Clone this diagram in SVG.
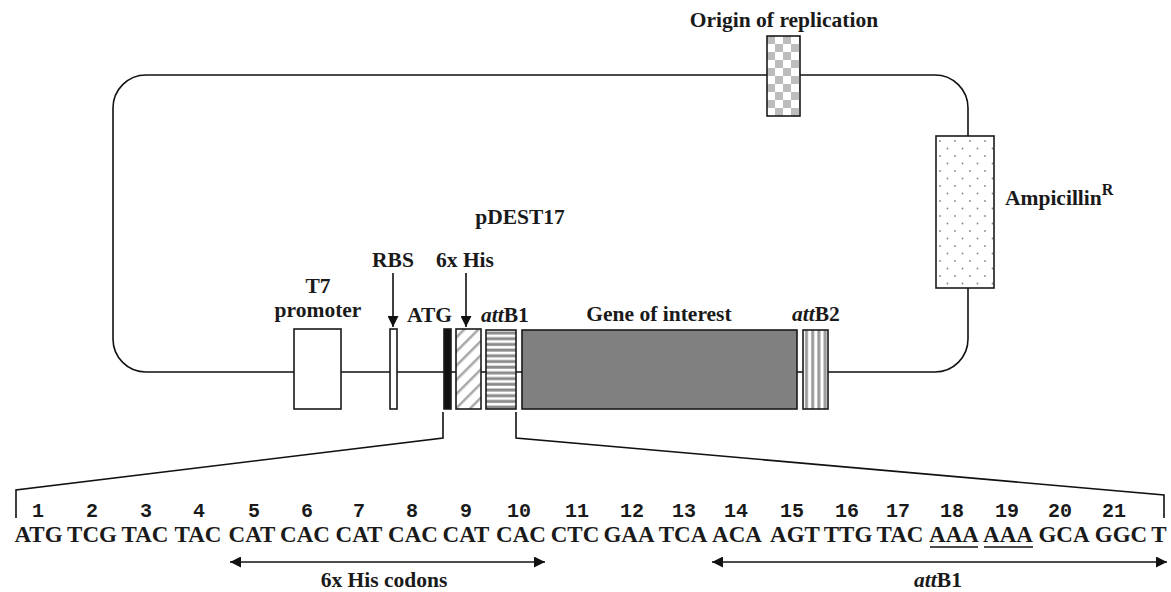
<svg xmlns="http://www.w3.org/2000/svg" width="1171" height="592" viewBox="0 0 1171 592">
<style>
.lbl{font-family:"Liberation Serif","Times New Roman",serif;font-weight:bold;font-size:21.5px;fill:#1a1a1a}
.seq{font-family:"Liberation Serif","Times New Roman",serif;font-weight:bold;font-size:23px;fill:#1a1a1a;text-anchor:middle}
.num{font-family:"Liberation Mono","Courier New",monospace;font-weight:bold;font-size:20px;fill:#1a1a1a;text-anchor:middle}
.box{stroke:#1a1a1a;stroke-width:1.6}
.ln{fill:none;stroke:#111;stroke-width:1.6}
.mid{text-anchor:middle}
</style>
<defs>
<pattern id="checker" width="16" height="16" patternUnits="userSpaceOnUse" x="767" y="36">
<rect width="16" height="16" fill="#fff"/>
<rect width="8" height="8" fill="#bdbdbd"/>
<rect x="8" y="8" width="8" height="8" fill="#bdbdbd"/>
</pattern>
<pattern id="dots" width="15" height="15" patternUnits="userSpaceOnUse" x="936" y="136">
<rect width="15" height="15" fill="#fff"/>
<circle cx="4" cy="5" r="0.9" fill="#888"/>
<circle cx="11.5" cy="12.5" r="0.9" fill="#888"/>
</pattern>
<pattern id="diag" width="10" height="10" patternUnits="userSpaceOnUse" patternTransform="rotate(45)">
<rect width="10" height="10" fill="#fff"/>
<rect x="0" width="2.5" height="10" fill="#a8a8a8"/>
</pattern>
<pattern id="hstripe" width="10" height="5.7" patternUnits="userSpaceOnUse" y="330">
<rect width="10" height="5.7" fill="#fff"/>
<rect y="1.5" width="10" height="3" fill="#8a8a8a"/>
</pattern>
<pattern id="vstripe" width="6.2" height="10" patternUnits="userSpaceOnUse" x="803">
<rect width="6.2" height="10" fill="#fff"/>
<rect x="2" width="3" height="10" fill="#9a9a9a"/>
</pattern>
<marker id="ah" viewBox="0 0 10 10" refX="10" refY="5" markerWidth="15" markerHeight="11" markerUnits="userSpaceOnUse" orient="auto-start-reverse">
<path d="M0,0 L10,5 L0,10 z" fill="#111"/>
</marker>
</defs>
<rect width="1171" height="592" fill="#fff"/>

<g id="connectors">
<rect x="113" y="75" width="855" height="297" rx="33" ry="33" class="ln" stroke-width="2"/>
<line x1="393" y1="273" x2="393" y2="327" class="ln" stroke-width="2" marker-end="url(#ah)"/>
<line x1="466" y1="273" x2="466" y2="327" class="ln" stroke-width="2" marker-end="url(#ah)"/>
<polyline points="443,412 443,438 16,490 16,518" class="ln"/>
<polyline points="516,412 516,438 1164,495 1164,518" class="ln"/>
<line x1="230" y1="562" x2="545" y2="562" class="ln" marker-start="url(#ah)" marker-end="url(#ah)"/>
<line x1="712" y1="562" x2="1167" y2="562" class="ln" marker-start="url(#ah)" marker-end="url(#ah)"/>
</g>

<g id="ori">
<rect x="767" y="36" width="33" height="80" fill="url(#checker)" class="box"/>
<text x="784" y="27" class="lbl mid">Origin of replication</text>
</g>
<g id="amp">
<rect x="936" y="136" width="58" height="152" fill="url(#dots)" class="box"/>
<text x="1005" y="205" class="lbl">Ampicillin<tspan dy="-10" font-size="16">R</tspan></text>
</g>
<g id="title">
<text x="520" y="224" class="lbl mid" font-size="26">pDEST17</text>
</g>
<g id="t7">
<rect x="294" y="329" width="47" height="80" fill="#fff" class="box"/>
<text x="318" y="293" class="lbl mid">T7</text>
<text x="318" y="317" class="lbl mid">promoter</text>
</g>
<g id="rbs">
<rect x="390" y="329" width="7" height="80" fill="#fff" class="box"/>
<text x="393" y="267" class="lbl mid">RBS</text>
</g>
<g id="atg">
<rect x="444" y="329" width="7" height="80" fill="#111" class="box"/>
<text x="407" y="322" class="lbl">ATG</text>
</g>
<g id="his">
<rect x="456" y="329" width="25" height="80" fill="url(#diag)" class="box"/>
<text x="465" y="267" class="lbl mid">6x His</text>
</g>
<g id="attb1">
<rect x="486" y="330" width="30" height="79" fill="url(#hstripe)" class="box"/>
<text x="481" y="322" class="lbl"><tspan font-style="italic">att</tspan>B1</text>
</g>
<g id="goi">
<rect x="522" y="330" width="275" height="79" fill="#808080" class="box"/>
<text x="659" y="321" class="lbl mid" font-size="22.5">Gene of interest</text>
</g>
<g id="attb2">
<rect x="803" y="330" width="25" height="79" fill="url(#vstripe)" class="box"/>
<text x="792" y="321" class="lbl"><tspan font-style="italic">att</tspan>B2</text>
</g>

<g id="numbers">
<text y="517" class="num"><tspan x="38">1</tspan><tspan x="92">2</tspan><tspan x="146">3</tspan><tspan x="199">4</tspan><tspan x="254">5</tspan><tspan x="307">6</tspan><tspan x="359">7</tspan><tspan x="412">8</tspan><tspan x="466">9</tspan><tspan x="519">10</tspan><tspan x="577">11</tspan><tspan x="632">12</tspan><tspan x="684">13</tspan><tspan x="736">14</tspan><tspan x="792">15</tspan><tspan x="847">16</tspan><tspan x="898">17</tspan><tspan x="952">18</tspan><tspan x="1007">19</tspan><tspan x="1060">20</tspan><tspan x="1114">21</tspan></text>
</g>
<g id="sequence">
<text y="542" class="seq"><tspan x="38.5">ATG</tspan><tspan x="92">TCG</tspan><tspan x="145">TAC</tspan><tspan x="198">TAC</tspan><tspan x="252">CAT</tspan><tspan x="305">CAC</tspan><tspan x="359">CAT</tspan><tspan x="413">CAC</tspan><tspan x="466">CAT</tspan><tspan x="521">CAC</tspan><tspan x="575">CTC</tspan><tspan x="629">GAA</tspan><tspan x="683">TCA</tspan><tspan x="737">ACA</tspan><tspan x="795">AGT</tspan><tspan x="848">TTG</tspan><tspan x="900">TAC</tspan><tspan x="954">AAA</tspan><tspan x="1008">AAA</tspan><tspan x="1064">GCA</tspan><tspan x="1121">GGC</tspan><tspan x="1159">T</tspan></text>
<line x1="930" y1="547" x2="978" y2="547" class="ln"/>
<line x1="984" y1="547" x2="1033" y2="547" class="ln"/>
</g>
<g id="labels-bottom">
<text x="384" y="587" class="lbl mid">6x His codons</text>
<text x="938" y="587" class="lbl mid"><tspan font-style="italic">att</tspan>B1</text>
</g>
</svg>
